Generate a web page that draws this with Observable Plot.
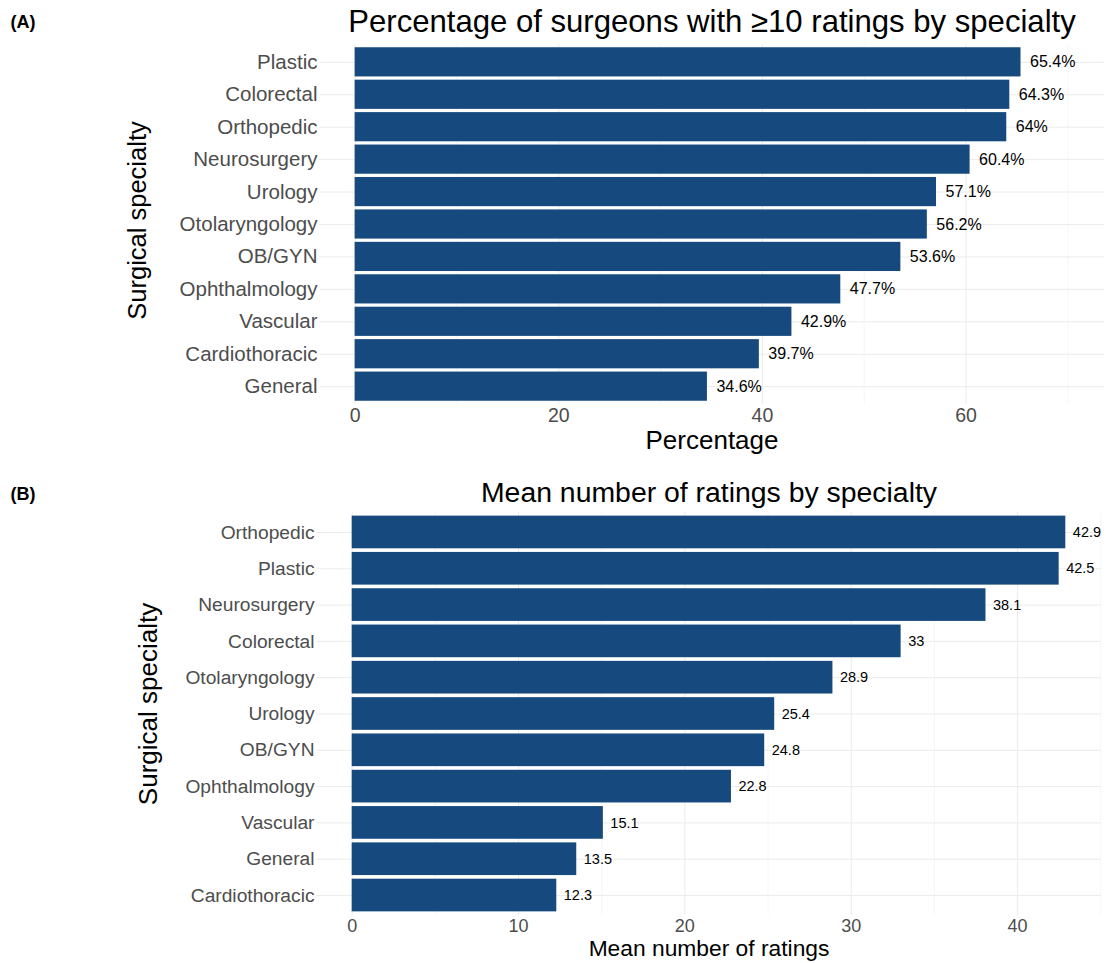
<!DOCTYPE html>
<html>
<head>
<meta charset="utf-8">
<script src="https://cdn.jsdelivr.net/npm/d3@7"></script>
<script src="https://cdn.jsdelivr.net/npm/@observablehq/plot@0.6"></script>
<style>
  html, body { margin: 0; padding: 0; background: #fff; }
  #wrap { position: relative; width: 1106px; height: 963px; font-family: "Liberation Sans", Arial, sans-serif; }
  #wrap > div { position: absolute; left: 0; }
</style>
</head>
<body>
<div id="wrap"><div id="pa" style="top:0"></div><div id="pb" style="top:465px"></div></div>
<script>
// Panel A data
const specialtiesA = ["Plastic","Colorectal","Orthopedic","Neurosurgery","Urology","Otolaryngology","OB/GYN","Ophthalmology","Vascular","Cardiothoracic","General"];
const percentA = [65.4, 64.3, 64, 60.4, 57.1, 56.2, 53.6, 47.7, 42.9, 39.7, 34.6];
const ticksA = [0, 20, 40, 60];
const minorTicksA = [10, 30, 50, 70];

// Panel B data
const specialtiesB = ["Orthopedic","Plastic","Neurosurgery","Colorectal","Otolaryngology","Urology","OB/GYN","Ophthalmology","Vascular","General","Cardiothoracic"];
const meanB = [42.9, 42.5, 38.1, 33, 28.9, 25.4, 24.8, 22.8, 15.1, 13.5, 12.3];
const ticksB = [0, 10, 20, 30, 40];
const minorTicksB = [5, 15, 25, 35, 45];

const barColor = "#164a7e";
const FONT = "'Liberation Sans', Arial, sans-serif";

const dataA = specialtiesA.map((s, i) => ({specialty: s, value: percentA[i], label: percentA[i] + "%"}));
const dataB = specialtiesB.map((s, i) => ({specialty: s, value: meanB[i], label: String(meanB[i])}));

function panel(cfg) {
  return Plot.plot({
    width: 1106,
    height: cfg.height,
    marginTop: cfg.mt,
    marginBottom: cfg.mb,
    marginLeft: cfg.ml,
    marginRight: cfg.mr,
    style: {fontFamily: FONT, background: "white", overflow: "visible"},
    x: {domain: cfg.xdomain},
    y: {domain: cfg.categories, padding: 0.1, round: false},
    marks: [
      Plot.gridX(cfg.minor, {stroke: "#f4f4f4", strokeOpacity: 1, strokeWidth: 0.8}),
      Plot.gridX(cfg.ticks, {stroke: "#ebebeb", strokeOpacity: 1, strokeWidth: 1}),
      Plot.gridY(cfg.categories, {stroke: "#ebebeb", strokeOpacity: 1, strokeWidth: 1}),
      Plot.barX(cfg.data, {x: "value", y: "specialty", fill: barColor}),
      Plot.text(cfg.data, {x: "value", y: "specialty", text: "label", textAnchor: "start", dx: cfg.labelDx, fontSize: cfg.labelSize, fill: "black"}),
      Plot.axisY({tickSize: 0, tickPadding: 2, fontSize: cfg.ySize, color: "#4d4d4d", label: null}),
      Plot.axisX(cfg.ticks, {tickSize: 0, tickPadding: 4, fontSize: cfg.xSize, color: "#4d4d4d", label: null}),
      Plot.text([cfg.xTitle], {text: d => d, frameAnchor: "bottom", lineAnchor: "middle", textAnchor: "middle", dy: cfg.xTitleDy, fontSize: cfg.xTitleSize, fill: "black"}),
      Plot.text([cfg.yTitle], {text: d => d, frameAnchor: "left", lineAnchor: "middle", textAnchor: "middle", dx: cfg.yTitleDx, dy: cfg.yTitleDy, rotate: -90, fontSize: cfg.yTitleSize, fill: "black"}),
      Plot.text([cfg.title], {text: d => d, frameAnchor: "top", lineAnchor: "middle", textAnchor: "middle", dy: cfg.titleDy, fontSize: cfg.titleSize, fill: "black"}),
      Plot.text([cfg.tag], {text: d => d, frameAnchor: "top-left", lineAnchor: "middle", textAnchor: "start", dx: cfg.tagDx, dy: cfg.tagDy, fontSize: 18, fontWeight: "bold", fill: "black"})
    ]
  });
}

document.getElementById("pa").appendChild(panel({
  height: 465, mt: 44, mb: 61, ml: 319, mr: 2,
  xdomain: [-3.5, 73.6], categories: specialtiesA, data: dataA,
  ticks: ticksA, minor: minorTicksA,
  labelDx: 9, labelSize: 16, ySize: 20.5, xSize: 19.5,
  xTitle: "Percentage", xTitleDy: 36, xTitleSize: 26,
  yTitle: "Surgical specialty", yTitleDx: -182, yTitleDy: -4, yTitleSize: 25.5,
  title: "Percentage of surgeons with \u226510 ratings by specialty", titleDy: -22, titleSize: 31.1,
  tag: "(A)", tagDx: -309, tagDy: -22
}));

document.getElementById("pb").appendChild(panel({
  height: 498, mt: 47, mb: 48, ml: 316, mr: 5,
  xdomain: [-2.145, 45.045], categories: specialtiesB, data: dataB,
  ticks: ticksB, minor: minorTicksB,
  labelDx: 7, labelSize: 14.5, ySize: 19.2, xSize: 18,
  xTitle: "Mean number of ratings", xTitleDy: 33, xTitleSize: 22.8,
  yTitle: "Surgical specialty", yTitleDx: -168, yTitleDy: -10, yTitleSize: 26,
  title: "Mean number of ratings by specialty", titleDy: -20, titleSize: 28.4,
  tag: "(B)", tagDx: -306, tagDy: -18
}));
</script>
</body>
</html>
